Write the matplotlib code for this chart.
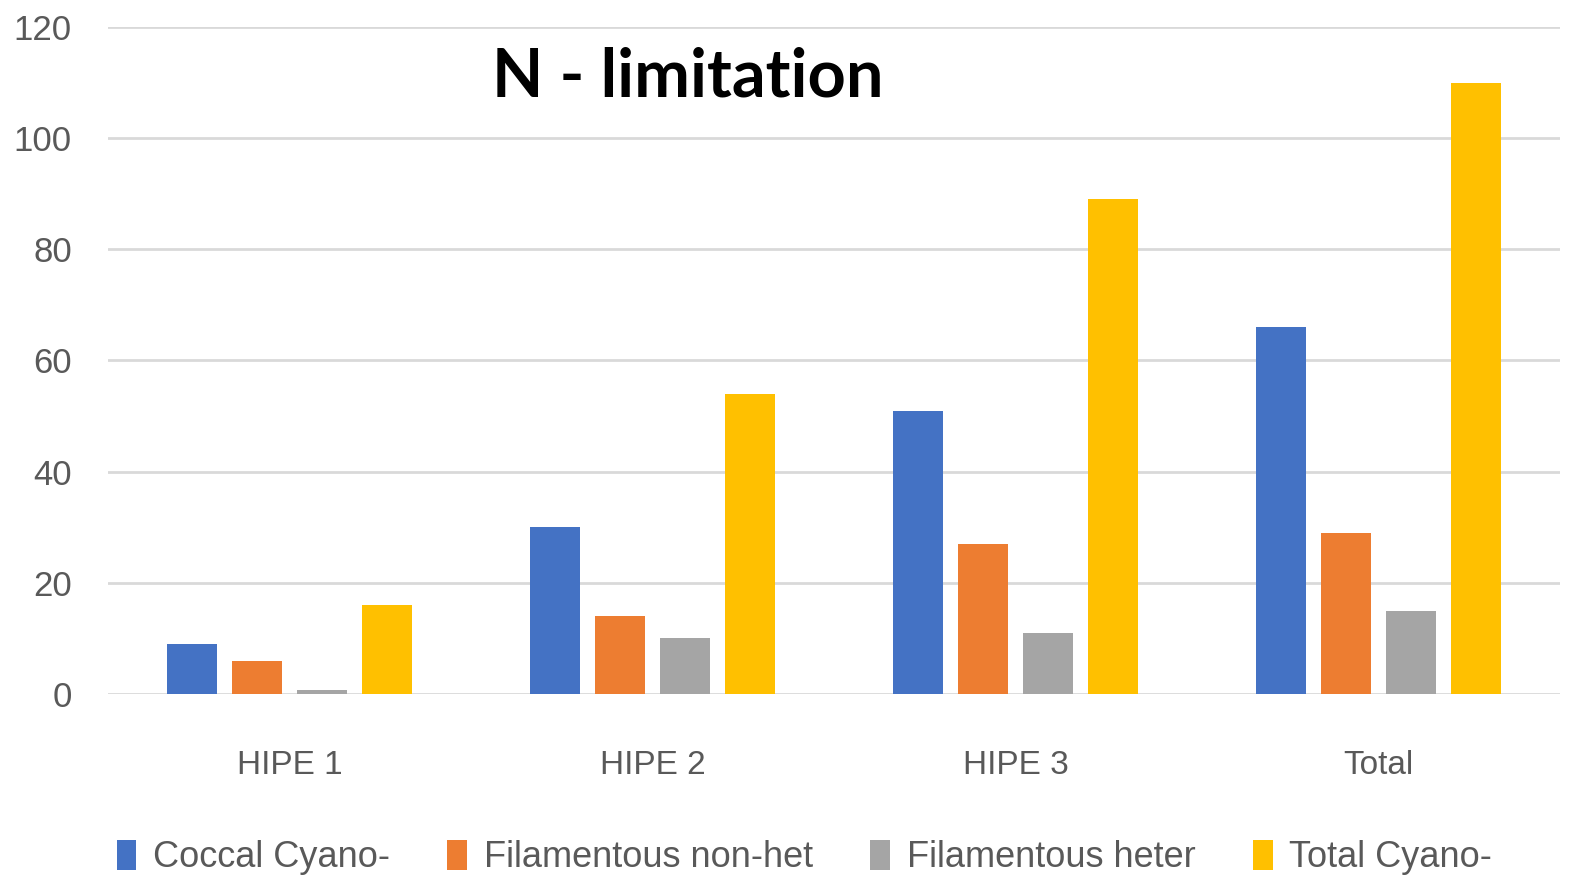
import matplotlib
matplotlib.use("Agg")
import matplotlib.pyplot as plt
import numpy as np
from matplotlib.font_manager import fontManager

categories = ["HIPE 1", "HIPE 2", "HIPE 3", "Total"]
series_names = ["Coccal Cyano-", "Filamentous non-het", "Filamentous heter", "Total Cyano-"]
coccal = [9, 30, 51, 66]
fil_nonhet = [6, 14, 27, 29]
fil_heter = [0.7, 10, 11, 15]
total_cyano = [16, 54, 89, 110]
yticks = [0, 20, 40, 60, 80, 100, 120]

colors = ["#4472C4", "#ED7D31", "#A5A5A5", "#FFC000"]

names = {f.name for f in fontManager.ttflist}
narrow = "Liberation Sans Narrow" if "Liberation Sans Narrow" in names else "Liberation Sans"

fig = plt.figure(figsize=(15.71, 8.77), dpi=100)
ax = fig.add_axes([0.0687, 0.2087, 0.9243, 0.7605])

x = np.arange(len(categories))
width = 0.138
step = 0.179
all_series = [coccal, fil_nonhet, fil_heter, total_cyano]
handles = []
for i, (vals, name, c) in enumerate(zip(all_series, series_names, colors)):
    h = ax.bar(x + (i - 1.5) * step, vals, width, color=c, label=name, zorder=3)
    handles.append(h)

ax.set_xlim(-0.5, 3.5)
ax.set_ylim(0, 120)
ax.set_yticks(yticks)
ax.set_xticks(x)
ax.set_xticklabels(categories)
ax.grid(axis="y", color="#d9d9d9", linewidth=2, zorder=0)
ax.set_axisbelow(True)
for s in ax.spines.values():
    s.set_visible(False)
ax.tick_params(axis="both", length=0, colors="#595959")
ax.tick_params(axis="y", pad=26, labelsize=25)
ax.tick_params(axis="x", pad=40, labelsize=24)
for lab in ax.get_xticklabels() + ax.get_yticklabels():
    lab.set_fontfamily(narrow)

fig.text(0.438, 0.912, "N - limitation", fontsize=48, fontweight="bold",
         ha="center", va="center", family="Lato")

fig.legend(handles=handles, labels=series_names, loc="center", ncol=4,
           bbox_to_anchor=(0.512, 0.022), frameon=False,
           prop={"family": narrow, "size": 26}, handlelength=0.55, handleheight=0.9,
           handletextpad=0.45, columnspacing=1.6, labelcolor="#595959")

fig.savefig("out.png", dpi=100)
